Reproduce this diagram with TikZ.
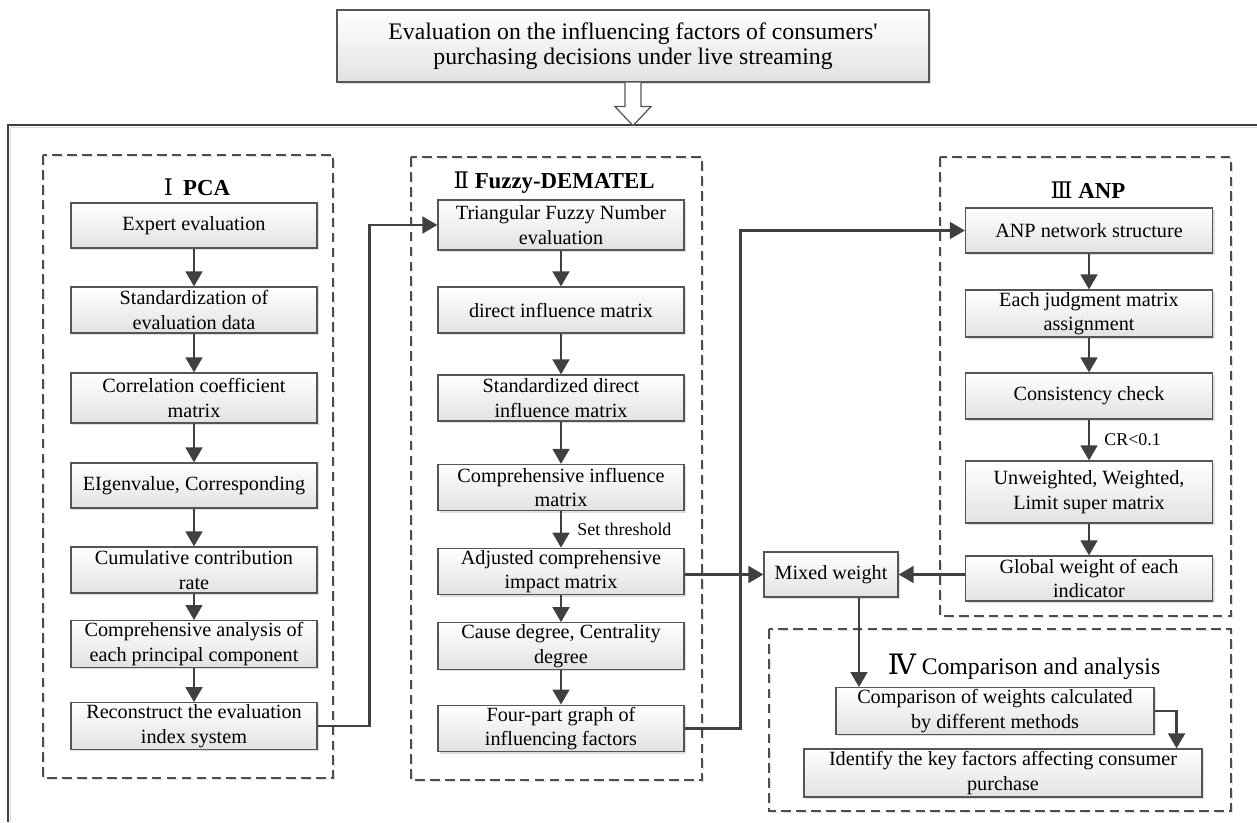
\documentclass[tikz,border=0pt]{standalone}
\usepackage{fontspec}
\setmainfont{Liberation Serif}
\newfontfamily\numfont{DejaVu Serif}
\usetikzlibrary{arrows.meta,shadows}
\definecolor{bordc}{HTML}{555555}
\definecolor{linec}{HTML}{404040}
\definecolor{dashc}{HTML}{4D4D4D}
\definecolor{botc}{HTML}{E2E2E2}
\begin{document}
\begin{tikzpicture}[x=0.02cm,y=-0.02cm,
  box/.style={draw=bordc, line width=0.7pt, top color=white, bottom color=botc,
    align=center, inner sep=1pt, minimum height=0.92cm,
    font=\fontsize{11.5}{14}\selectfont,
    drop shadow={shadow xshift=1.2pt, shadow yshift=-1.2pt, fill=gray!50, opacity=0.5}},
  pbox/.style={box, minimum width=4.92cm},
  arr/.style={draw=linec, line width=1.4pt, -{Triangle[length=8.5pt,width=9.5pt]}},
  group/.style={draw=dashc, line width=0.9pt, dash pattern=on 5.5pt off 3pt,
    preaction={draw=gray!25, line width=0.8pt, dash pattern=on 5.5pt off 3pt,
      transform canvas={shift={(1pt,-1pt)}}}},
  head/.style={font=\fontsize{13}{15}\selectfont\bfseries, inner sep=0pt},
  lab/.style={font=\fontsize{10.2}{12}\selectfont, inner sep=0pt, anchor=west}]
\useasboundingbox (0,0) rectangle (1257,822);

% outer frame (top and left edges)
\draw[gray!30, line width=0.8pt] (10.5,822) -- (10.5,127.5) -- (1257,127.5);
\draw[linec, line width=1pt] (8,822) -- (8,125) -- (1257,125);

% title
\node[box, minimum width=11.84cm, minimum height=1.44cm,
  font=\fontsize{13.5}{14}\selectfont] (title) at (633,46)
  {Evaluation on the influencing factors of consumers\textquotesingle\\purchasing decisions under live streaming};
\draw[draw=bordc, fill=white, line width=0.7pt, line join=miter]
  (title.south) ++(-8,0) -- ++(0,24) -- ++(-10,0) -- ++(18,19) -- ++(18,-19) -- ++(-10,0) -- ++(0,-24);

% group containers
\draw[group] (43,155) rectangle (333,778);
\draw[group] (411,157) rectangle (702,780);
\draw[group] (940,157) rectangle (1231,616);
\draw[group] (769,629) rectangle (1231,811);

% headings
\node[head] (hI) at (197,187) {{\numfont\mdseries Ⅰ}\hspace{0.45em}PCA};
\node[head] (hII) at (554,183) {{\numfont\mdseries Ⅱ} Fuzzy-DEMATEL};
\node[head] (hIII) at (1088,190) {{\numfont\mdseries Ⅲ} ANP};
\node[font=\fontsize{13.5}{15}\selectfont, inner sep=0pt] (hIV) at (1024,667)
  {{\numfont\fontsize{16}{16}\selectfont Ⅳ} Comparison and analysis};

% PCA column
\node[pbox, minimum height=0.9cm] (e1) at (194,225.5) {Expert evaluation};
\node[pbox] (e2) at (194,310) {Standardization of\\evaluation data};
\node[pbox, minimum height=1.0cm] (e3) at (194,398) {Correlation coefficient\\matrix};
\node[pbox, minimum height=0.9cm] (e4) at (194,485.5) {EIgenvalue, Corresponding};
\node[pbox] (e5) at (194,570) {Cumulative contribution\\rate};
\node[pbox] (e6) at (194,644) {Comprehensive analysis of\\each principal component};
\node[pbox] (e7) at (194,726) {Reconstruct the evaluation\\index system};

% Fuzzy-DEMATEL column
\node[pbox, minimum height=1.0cm] (f1) at (561,225) {Triangular Fuzzy Number\\evaluation};
\node[pbox] (f2) at (561,310) {direct influence matrix};
\node[pbox] (f3) at (561,398) {Standardized direct\\influence matrix};
\node[pbox] (f4) at (561,487.5) {Comprehensive influence\\matrix};
\node[pbox, minimum height=0.9cm] (f5) at (561,571.5) {Adjusted comprehensive\\impact matrix};
\node[pbox] (f6) at (561,646) {Cause degree, Centrality\\degree};
\node[pbox, minimum height=0.9cm] (f7) at (561,728.5) {Four-part graph of\\influencing factors};

% ANP column
\node[box, minimum width=4.94cm, minimum height=0.9cm] (a1) at (1089,230.5) {ANP network structure};
\node[box, minimum width=4.94cm, minimum height=0.94cm] (a2) at (1089,313.5) {Each judgment matrix\\assignment};
\node[box, minimum width=4.94cm] (a3) at (1089,396) {Consistency check};
\node[box, minimum width=4.94cm, minimum height=1.24cm] (a4) at (1089,492) {Unweighted, Weighted,\\Limit super matrix};
\node[box, minimum width=4.94cm, minimum height=0.9cm] (a5) at (1089,578.5) {Global weight of each\\indicator};

% mixed weight and comparison
\node[box, minimum width=2.68cm, minimum height=0.9cm] (mix) at (831,574.5) {Mixed weight};
\node[box, minimum width=6.36cm, minimum height=0.92cm] (comp) at (995,711) {Comparison of weights calculated\\by different methods};
\node[box, minimum width=7.96cm, minimum height=0.96cm] (ident) at (1003,773) {Identify the key factors affecting consumer\\purchase};

% labels
\node[lab] (lthr) at (577,529) {Set threshold};
\node[lab] (lcr) at (1104,440) {CR<0.1};

% connectors
\foreach \a/\b in {e1/e2,e2/e3,e3/e4,e4/e5,e5/e6,e6/e7,
                   f1/f2,f2/f3,f3/f4,f4/f5,f5/f6,f6/f7,
                   a1/a2,a2/a3,a3/a4,a4/a5}
  \draw[arr] (\a) -- (\b);
\draw[arr] (e7.east) -- ++(52,0) |- (f1.west);
\draw[arr] (f7.east) -- ++(56,0) |- (a1.west);
\draw[arr] (f5.east |- mix.west) -- (mix.west);
\draw[arr] (a5.west |- mix.east) -- (mix.east);
\draw[arr] ([xshift=0.56cm]mix.south) -- ([xshift=0.56cm]mix.south |- comp.north);
\draw[arr] (comp.east) -| ([xshift=-0.52cm]ident.north east);
\end{tikzpicture}
\end{document}
